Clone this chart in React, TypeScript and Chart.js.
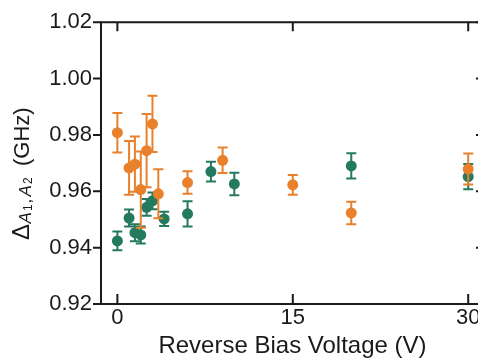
import React, { useEffect, useRef } from "react";
import { Chart, registerables } from "chart.js";

Chart.register(...registerables);

// Data
const voltagesOrange = [0, 1, 1.5, 2, 2.5, 3, 3.5, 6, 9, 15, 20, 30];
const deltaOrange = [0.9808, 0.9683, 0.9696, 0.9606, 0.9744, 0.9839, 0.9591, 0.9631, 0.971, 0.9623, 0.9523, 0.9679];
const errOrange = [0.007, 0.0095, 0.0098, 0.0135, 0.013, 0.01, 0.0087, 0.004, 0.0045, 0.0035, 0.004, 0.0055];

const voltagesGreen = [0, 1, 1.5, 2, 2.5, 3, 4, 6, 8, 10, 20, 30];
const deltaGreen = [0.9424, 0.9505, 0.9453, 0.9445, 0.9543, 0.9566, 0.9502, 0.952, 0.967, 0.9626, 0.969, 0.9652];
const errGreen = [0.0033, 0.003, 0.003, 0.003, 0.003, 0.003, 0.0025, 0.0045, 0.0035, 0.004, 0.0045, 0.0045];

const xTicks = [0, 15, 30];
const yTicks = [0.92, 0.94, 0.96, 0.98, 1.0, 1.02];

const xTitle = "Reverse Bias Voltage (V)";

const ORANGE = "rgb(232,128,44)";
const GREEN = "rgb(36,122,94)";
const INK = "#1a1a1a";
const FONT = '"Liberation Sans", Arial, Helvetica, sans-serif';

const errorBarPlugin = {
  id: "errorBars",
  beforeDatasetDraw(chart: any, args: any) {
    const ds: any = chart.data.datasets[args.index];
    const errs: number[] = ds.errors || [];
    const xs = chart.scales.x;
    const ys = chart.scales.y;
    const ctx = chart.ctx;
    ctx.save();
    ctx.strokeStyle = ds.backgroundColor;
    ctx.lineWidth = 2;
    const cap = 5;
    ds.data.forEach((p: any, i: number) => {
      const e = errs[i] || 0;
      const px = xs.getPixelForValue(p.x);
      const top = ys.getPixelForValue(p.y + e);
      const bot = ys.getPixelForValue(p.y - e);
      ctx.beginPath();
      ctx.moveTo(px, top);
      ctx.lineTo(px, bot);
      ctx.moveTo(px - cap, top);
      ctx.lineTo(px + cap, top);
      ctx.moveTo(px - cap, bot);
      ctx.lineTo(px + cap, bot);
      ctx.stroke();
    });
    ctx.restore();
  },
};

const framePlugin = {
  id: "frame",
  afterDraw(chart: any) {
    const { ctx, chartArea } = chart;
    const { left, right, top, bottom } = chartArea;
    const xs = chart.scales.x;
    const ys = chart.scales.y;
    ctx.save();
    ctx.strokeStyle = INK;
    ctx.lineWidth = 2;
    ctx.lineCap = "butt";
    ctx.beginPath();
    ctx.moveTo(left, top);
    ctx.lineTo(right, top);
    ctx.lineTo(right, bottom);
    ctx.lineTo(left, bottom);
    ctx.closePath();
    ctx.stroke();
    ctx.beginPath();
    yTicks.forEach((v) => {
      const py = ys.getPixelForValue(v);
      ctx.moveTo(left - 8, py);
      ctx.lineTo(left, py);
      ctx.moveTo(right - 8, py);
      ctx.lineTo(right, py);
    });
    xTicks.forEach((v) => {
      const px = xs.getPixelForValue(v);
      ctx.moveTo(px, bottom);
      ctx.lineTo(px, bottom - 10);
      ctx.moveTo(px, top);
      ctx.lineTo(px, top + 9);
    });
    ctx.stroke();

    // y-axis title with subscripts (rotated, reading bottom to top)
    const pieces = [
      { t: "\u0394", font: `24px ${FONT}`, dy: 0, adv: 16.5 },
      { t: "A", font: `italic 17px ${FONT}`, dy: 2, adv: 12.5 },
      { t: "1", font: `12px ${FONT}`, dy: 3.5, adv: 7.5 },
      { t: ",", font: `17px ${FONT}`, dy: 2, adv: 7 },
      { t: "A", font: `italic 17px ${FONT}`, dy: 2, adv: 12.5 },
      { t: "2", font: `12px ${FONT}`, dy: 3.5, adv: 8 },
      { t: " ", font: `22px ${FONT}`, dy: 0, adv: 10 },
      { t: "(GHz)", font: `22px ${FONT}`, dy: 0, adv: 0 },
    ];
    ctx.translate(28.5, 240);
    ctx.rotate(-Math.PI / 2);
    ctx.fillStyle = INK;
    ctx.textBaseline = "alphabetic";
    ctx.textAlign = "left";
    let x = 0;
    pieces.forEach((p) => {
      ctx.font = p.font;
      ctx.fillText(p.t, x, p.dy);
      x += p.adv;
    });
    ctx.restore();
  },
};

export default function App() {
  const ref = useRef<HTMLCanvasElement | null>(null);

  useEffect(() => {
    if (!ref.current) return;
    const chart = new Chart(ref.current, {
      type: "scatter",
      data: {
        datasets: [
          {
            label: "orange",
            data: voltagesOrange.map((v, i) => ({ x: v, y: deltaOrange[i] })),
            errors: errOrange,
            backgroundColor: ORANGE,
            borderColor: ORANGE,
            borderWidth: 0,
            pointRadius: 5.5,
            pointHoverRadius: 5.5,
          } as any,
          {
            label: "green",
            data: voltagesGreen.map((v, i) => ({ x: v, y: deltaGreen[i] })),
            errors: errGreen,
            backgroundColor: GREEN,
            borderColor: GREEN,
            borderWidth: 0,
            pointRadius: 5.5,
            pointHoverRadius: 5.5,
          } as any,
        ],
      },
      options: {
        animation: false,
        responsive: false,
        devicePixelRatio: 1,
        layout: { padding: { top: 15, right: 16, left: 0, bottom: 0 } },
        plugins: {
          legend: { display: false },
          tooltip: { enabled: false },
        },
        scales: {
          x: {
            type: "linear",
            position: "bottom",
            min: -1.4,
            max: 31.35,
            afterBuildTicks: (s: any) => {
              s.ticks = xTicks.map((v) => ({ value: v }));
            },
            afterFit: (s: any) => {
              s.height = 58;
            },
            grid: { display: false, drawTicks: false },
            border: { display: false },
            ticks: {
              color: INK,
              font: { family: FONT, size: 22 },
              padding: 1,
              maxRotation: 0,
              autoSkip: false,
            },
            title: {
              display: true,
              text: xTitle,
              color: INK,
              font: { family: FONT, size: 24 },
              padding: { top: 0, bottom: 1 },
            },
          },
          y: {
            type: "linear",
            position: "left",
            min: 0.92,
            max: 1.02,
            afterBuildTicks: (s: any) => {
              s.ticks = yTicks.map((v) => ({ value: v }));
            },
            afterFit: (s: any) => {
              s.width = 101;
            },
            grid: { display: false, drawTicks: false },
            border: { display: false },
            ticks: {
              color: INK,
              font: { family: FONT, size: 22 },
              padding: 9,
              callback: (v: any) => Number(v).toFixed(2),
            },
          },
        },
      } as any,
      plugins: [errorBarPlugin, framePlugin],
    });
    return () => chart.destroy();
  }, []);

  return (
    <div
      style={{
        position: "fixed",
        left: 0,
        top: 0,
        width: 478,
        height: 362,
        overflow: "hidden",
        background: "#fff",
      }}
    >
      <canvas ref={ref} width={500} height={362} style={{ width: 500, height: 362, display: "block" }} />
    </div>
  );
}
